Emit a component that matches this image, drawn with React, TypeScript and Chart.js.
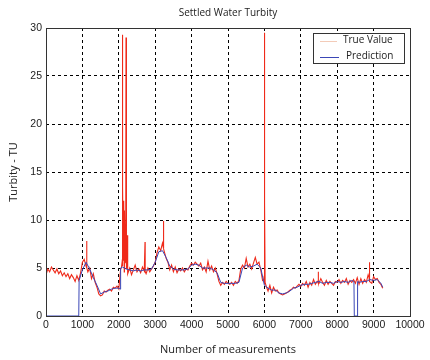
import React, { useEffect, useRef } from "react";
import { Chart, registerables } from "chart.js";

Chart.register(...registerables);

const chartTitle = "Settled Water Turbity";
const xAxisLabel = "Number of measurements";
const yAxisLabel = "Turbity - TU";
const legendLabels = ["True Value", "Prediction"];

// True value sampled every 50 measurements (index * 50)
const trueStep = 50;
const trueY = [
  4.3, 4.9, 4.6, 5.1, 4.8, 4.5, 4.9, 4.4, 4.7, 4.2,
  4.5, 4.1, 4.4, 3.9, 4.3, 4.0, 3.6, 4.2, 3.7, 4.5,
  5.6, 5.9, 5.2, 4.6, 5.0, 3.9, 4.4, 3.5, 3.0, 2.3,
  2.1, 2.2, 2.6, 2.5, 2.7, 2.8, 2.6, 3.0, 2.9, 3.1,
  2.8, 4.9, 5.2, 4.6, 5.4, 4.4, 5.0, 4.3, 4.8, 5.3,
  4.6, 4.9, 4.5, 5.1, 4.7, 4.4, 5.0, 4.6, 4.9, 5.2,
  5.6, 6.6, 7.2, 6.8, 7.6, 6.7, 6.0, 5.6, 4.8, 5.3,
  4.6, 5.1, 4.5, 4.9, 4.7, 5.0, 4.6, 4.9, 4.8, 5.2,
  5.5, 5.3, 5.6, 5.4, 5.2, 5.5, 4.8, 5.1, 4.6, 5.7,
  4.8, 5.2, 4.6, 5.0, 4.4, 3.6, 3.2, 3.5, 3.3, 3.6,
  3.4, 3.3, 3.5, 3.2, 3.6, 3.4, 3.7, 4.9, 5.3, 5.0,
  6.0, 5.1, 5.4, 4.9, 5.5, 6.1, 5.4, 5.6, 4.8, 3.7,
  3.3, 3.1, 2.6, 3.2, 2.4, 3.0, 2.6, 2.7, 2.4, 2.3,
  2.2, 2.3, 2.4, 2.5, 2.7, 2.8, 3.0, 2.9, 3.1, 3.3,
  3.1, 3.4, 3.2, 3.6, 3.0, 3.5, 3.2, 3.8, 3.3, 3.6,
  3.4, 3.9, 3.5, 3.2, 3.7, 3.3, 3.6, 3.4, 3.2, 3.6,
  3.5, 3.8, 3.4, 3.7, 3.5, 3.9, 3.3, 3.7, 3.5, 3.8,
  3.4, 4.0, 3.3, 3.9, 3.4, 3.8, 3.5, 4.3, 3.6, 3.4,
  4.1, 3.8, 3.9, 3.5, 3.3, 2.9,
];
// Narrow spikes in the true value (with their neighbouring samples)
const spikeX = [
  1115, 1120, 1125,
  2070, 2090, 2096, 2102, 2115, 2125, 2135, 2150, 2160, 2175, 2190, 2198, 2204, 2225, 2232, 2238,
  2715, 2720, 2725,
  3215, 3225, 3235,
  5985, 5995, 6000, 6005, 6012, 6020,
  7475, 7480, 7485,
  8875, 8880, 8885,
];
const spikeY = [
  5.3, 7.8, 5.0,
  5.0, 5.6, 29.3, 6.2, 13.5, 5.8, 12.0, 5.4, 11.0, 6.0, 5.5, 29.0, 5.2, 4.9, 8.4, 4.8,
  4.7, 7.7, 4.6,
  7.3, 9.9, 7.0,
  3.8, 4.2, 29.5, 12.2, 11.8, 3.5,
  3.5, 4.6, 3.4,
  4.0, 5.6, 3.8,
];

// Prediction
const predX = [
  0, 900, 910, 1000, 1100, 1200, 1300, 1400, 1500, 1600, 1700, 1800, 1900,
  2000, 2040, 2050, 2100, 2200, 2300, 2400, 2500, 2600, 2700, 2800, 2900,
  3000, 3100, 3200, 3300, 3400, 3500, 3600, 3700, 3800, 3900, 4000, 4100,
  4200, 4300, 4400, 4500, 4600, 4700, 4800, 4900, 5000, 5100, 5200, 5300,
  5400, 5500, 5600, 5700, 5800, 5900, 6000, 6100, 6200, 6300, 6400, 6500,
  6600, 6700, 6800, 6900, 7000, 7100, 7200, 7300, 7400, 7500, 7600, 7700,
  7800, 7900, 8000, 8100, 8200, 8300, 8400, 8460, 8470, 8550, 8560, 8600,
  8700, 8800, 8900, 9000, 9100, 9200, 9250,
];
const predY = [
  0, 0, 3.7, 4.8, 5.6, 4.9, 4.0, 3.2, 2.3, 2.5, 2.6, 2.8, 2.9,
  2.9, 2.8, 5.0, 5.1, 4.9, 4.8, 4.7, 4.8, 4.7, 4.8, 4.8, 4.9,
  5.6, 6.7, 6.8, 6.1, 5.2, 4.9, 4.8, 4.8, 4.8, 4.9, 5.3, 5.4,
  5.3, 5.0, 5.0, 5.0, 4.8, 4.5, 3.5, 3.4, 3.4, 3.4, 3.4, 3.5,
  5.0, 5.3, 5.1, 5.2, 5.4, 5.0, 3.2, 2.9, 2.7, 2.7, 2.4, 2.3,
  2.4, 2.6, 2.9, 3.0, 3.2, 3.3, 3.3, 3.4, 3.5, 3.6, 3.4, 3.5,
  3.5, 3.4, 3.6, 3.5, 3.6, 3.5, 3.7, 3.6, 0, 0, 3.6, 3.5,
  3.6, 3.6, 3.8, 3.7, 3.8, 3.4, 3.0,
];

const xMin = 0, xMax = 10000, xStep = 1000;
const yMin = 0, yMax = 30, yStep = 5;

const trueColor = "#ef2a1a";
const trueLegendColor = "#f3cbb8";
const predColor = "#3a46b6";
const textColor = "#222";

function buildTrueData() {
  const pts: { x: number; y: number }[] = trueY.map((y, i) => ({ x: i * trueStep, y }));
  spikeX.forEach((x, i) => pts.push({ x, y: spikeY[i] }));
  pts.sort((a, b) => a.x - b.x);
  return pts;
}

const framePlugin = {
  id: "frame",
  afterDraw(chart: any) {
    const { ctx, chartArea } = chart;
    const { left, right, top, bottom } = chartArea;
    ctx.save();
    ctx.strokeStyle = "#333";
    ctx.lineWidth = 1;
    ctx.setLineDash([]);
    ctx.strokeRect(Math.round(left) + 0.5, Math.round(top) + 0.5, Math.round(right - left), Math.round(bottom - top));
    ctx.fillStyle = textColor;
    ctx.font = "10px 'Open Sans'";
    ctx.textAlign = "center";
    ctx.textBaseline = "middle";
    ctx.fillText(chartTitle, (left + right) / 2, 13);
    ctx.font = "11px 'Open Sans'";
    ctx.fillText(xAxisLabel, (left + right) / 2, 350);
    ctx.save();
    ctx.translate(14, (top + bottom) / 2);
    ctx.rotate(-Math.PI / 2);
    ctx.fillText(yAxisLabel, 0, 0);
    ctx.restore();
    const lx = right - 97, ly = top + 5, lw = 91, lh = 30;
    ctx.fillStyle = "#fff";
    ctx.fillRect(lx, ly, lw, lh);
    ctx.strokeStyle = "#333";
    ctx.strokeRect(Math.round(lx) + 0.5, Math.round(ly) + 0.5, lw, lh);
    ctx.font = "10px 'Open Sans'";
    ctx.textAlign = "left";
    ctx.fillStyle = textColor;
    const rows = [
      { label: legendLabels[0], color: trueLegendColor, y: ly + 7.5, tx: lx + 30, len: 17 },
      { label: legendLabels[1], color: predColor, y: ly + 23.5, tx: lx + 33, len: 19 },
    ];
    rows.forEach((r) => {
      ctx.strokeStyle = r.color;
      ctx.beginPath();
      ctx.moveTo(lx + 7, Math.round(r.y) + 0.5);
      ctx.lineTo(lx + 7 + r.len, Math.round(r.y) + 0.5);
      ctx.stroke();
      ctx.fillText(r.label, r.tx, r.y);
    });
    ctx.restore();
  },
};

export default function App() {
  const ref = useRef<HTMLCanvasElement | null>(null);
  useEffect(() => {
    if (!ref.current) return;
    const edgeColor = (v: number, lo: number, hi: number) =>
      v === lo || v === hi ? "rgba(0,0,0,0)" : "#000";
    const chart = new Chart(ref.current, {
      type: "line",
      data: {
        datasets: [
          {
            label: legendLabels[0],
            data: buildTrueData(),
            borderColor: trueColor,
            borderWidth: 1.1,
            pointRadius: 0,
            tension: 0,
            order: 2,
          },
          {
            label: legendLabels[1],
            data: predX.map((x, i) => ({ x, y: predY[i] })),
            borderColor: predColor,
            borderWidth: 1,
            pointRadius: 0,
            tension: 0,
            order: 1,
          },
        ],
      },
      options: {
        animation: false,
        responsive: false,
        layout: { padding: { top: 28, right: 20, left: 0, bottom: 0 } },
        plugins: { legend: { display: false }, title: { display: false }, tooltip: { enabled: false } },
        scales: {
          x: {
            type: "linear",
            min: xMin,
            max: xMax,
            afterFit: (s: any) => { s.height = 44; },
            ticks: {
              stepSize: xStep,
              color: textColor,
              padding: 3,
              maxRotation: 0,
              autoSkip: false,
              callback: (v: any) => String(v),
              font: { family: "'Liberation Sans'", size: 10.5 },
            },
            grid: {
              drawTicks: false,
              lineWidth: 1,
              color: (c: any) => edgeColor(c.tick?.value, xMin, xMax),
            },
            border: { display: false, dash: [3, 3] },
          },
          y: {
            type: "linear",
            min: yMin,
            max: yMax,
            afterFit: (s: any) => { s.width = 46; },
            ticks: {
              stepSize: yStep,
              color: textColor,
              padding: 4,
              callback: (v: any) => String(v),
              font: { family: "'Liberation Sans'", size: 10.5 },
            },
            grid: {
              drawTicks: false,
              lineWidth: 1,
              color: (c: any) => edgeColor(c.tick?.value, yMin, yMax),
            },
            border: { display: false, dash: [3, 3] },
          },
        },
      },
      plugins: [framePlugin],
    });
    return () => chart.destroy();
  }, []);
  return (
    <div style={{ position: "absolute", left: 0, top: 0, width: 430, height: 360, background: "#fff" }}>
      <canvas ref={ref} width={430} height={360} />
    </div>
  );
}
